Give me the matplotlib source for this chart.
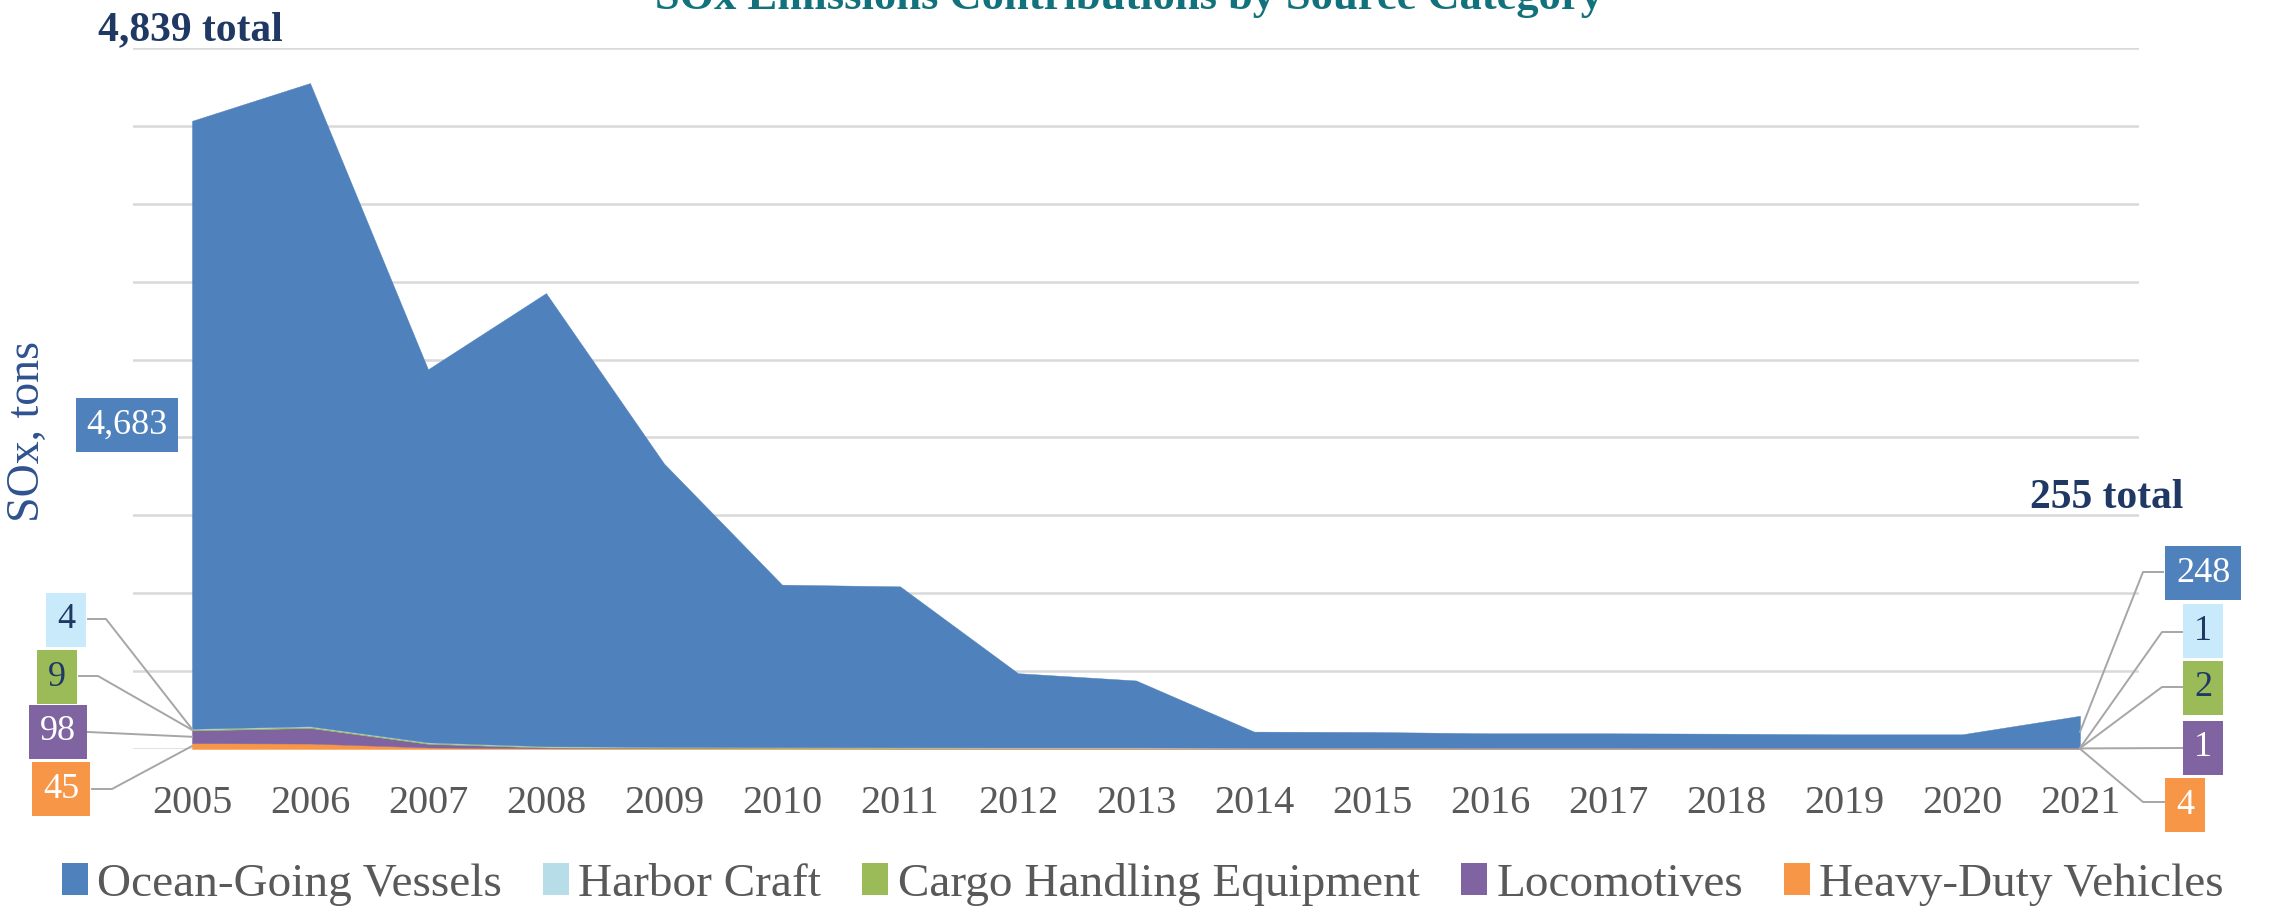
import numpy as np
import matplotlib.pyplot as plt
from matplotlib.lines import Line2D
from matplotlib.patches import Patch
from matplotlib.transforms import IdentityTransform

plt.rcParams['font.family'] = ['Liberation Serif', 'DejaVu Serif']

W, H = 2269, 917

years = list(range(2005, 2022))
ogv  = [4683, 4955, 2874, 3491, 2183, 1252, 1240, 572, 516, 124, 121, 112, 112, 110, 105, 105, 248]
hc   = [4, 4, 3, 3, 2, 2, 2, 2, 2, 1, 1, 1, 1, 1, 1, 1, 1]
che  = [9, 9, 8, 7, 6, 5, 5, 4, 4, 3, 3, 3, 3, 2, 2, 2, 2]
loco = [98, 120, 28, 6, 3, 2, 2, 2, 2, 2, 2, 1, 1, 1, 1, 1, 1]
hdv  = [45, 42, 12, 5, 5, 5, 4, 4, 4, 4, 4, 4, 4, 4, 4, 4, 4]
totals_shown = [4839, 255]

names = ['Ocean-Going Vessels', 'Harbor Craft', 'Cargo Handling Equipment',
         'Locomotives', 'Heavy-Duty Vehicles']
colors = ['#4F81BD', '#B7DEE8', '#9BBB59', '#8064A2', '#F79646']
box_colors = ['#4F81BD', '#C8EAFA', '#9BBB59', '#8064A2', '#F79646']
box_text = ['white', '#1F3864', '#1F3864', 'white', 'white']

fig = plt.figure(figsize=(W / 100, H / 100), dpi=100)
ax = fig.add_axes([133 / W, 1 - 749 / H, (2139 - 133) / W, (749 - 48) / H])

# stack bottom -> top: HDV, Loco, CHE, HC, OGV
series = [ogv, hc, che, loco, hdv]
order = [4, 3, 2, 1, 0]
polys = ax.stackplot(years, *[series[i] for i in order],
                     colors=[colors[i] for i in order], lw=0, zorder=2)
for p, i in zip(polys, order):
    p.set_edgecolor(colors[i])
    p.set_linewidth(0.3)

ax.set_xlim(2004.5, 2021.5)
ax.set_ylim(0, 5400)
ax.set_yticks(np.arange(0, 5401, 600))
ax.set_yticklabels([])
ax.grid(axis='y', color='#D9D9D9', lw=1.8)
ax.set_axisbelow(True)
for s in ax.spines.values():
    s.set_visible(False)
ax.set_xticks(years)
ax.set_xticklabels([str(y) for y in years], fontsize=29, color='#595959')
ax.tick_params(axis='both', length=0)
ax.tick_params(axis='x', pad=26)

# title (cut off at the top edge, as in the source)
fig.text(655 / W, 1 - 9 / H, 'SOx Emissions Contributions by Source Category',
         fontsize=32, fontweight='bold', color='#12727C', ha='left', va='baseline')

# y label
fig.text(28 / W, 1 - 432 / H, 'SOx, tons', rotation=90, fontsize=33,
         color='#2F528F', ha='center', va='center')

# totals
fig.text(98 / W, 1 - 40 / H, f'{totals_shown[0]:,} total', fontsize=30,
         fontweight='bold', color='#1F3864', ha='left', va='baseline')
fig.text(2030 / W, 1 - 508 / H, f'{totals_shown[1]:,} total', fontsize=30,
         fontweight='bold', color='#1F3864', ha='left', va='baseline')


def layer_mid(k, i):
    lo = 0
    for j in order:
        if j == k:
            return lo + series[j][i] / 2
        lo += series[j][i]


def label(k, i, center, start=None, elbow=None):
    cx, cy = center
    fig.text(cx / W, 1 - cy / H, f'{series[k][i]:,}', fontsize=26,
             color=box_text[k], ha='center', va='center', zorder=6,
             bbox=dict(boxstyle='square,pad=0.3', fc=box_colors[k], ec='none'))
    if start is None:
        return
    px, py = ax.transData.transform((years[i], layer_mid(k, i)))
    xs = [start[0]]
    ys = [H - start[1]]
    if elbow is not None:
        xs.append(elbow)
        ys.append(H - start[1])
    xs.append(px)
    ys.append(py)
    fig.add_artist(Line2D(xs, ys, transform=IdentityTransform(),
                          color='#A6A6A6', lw=1.4, zorder=5))


# left side (2005)
label(0, 0, (127, 425))
label(1, 0, (66, 620), (88, 619), 106)
label(2, 0, (57, 677), (79, 676), 98)
label(3, 0, (58, 732), (88, 732))
label(4, 0, (61, 789), (92, 789), 112)

# right side (2021)
n = len(years) - 1
label(0, n, (2203, 573), (2163, 572), 2143)
label(1, n, (2203, 631), (2182, 632), 2162)
label(2, n, (2203, 688), (2182, 687), 2162)
label(3, n, (2203, 748), (2182, 748))
label(4, n, (2185, 805), (2164, 802), 2143)

handles = [Patch(facecolor=c, edgecolor='none') for c in colors]
fig.legend(handles, names, loc='center', bbox_to_anchor=(0.5037, 1 - 884 / H),
           ncol=5, frameon=False, fontsize=34, labelcolor='#595959',
           handlelength=0.55, handleheight=0.68, handletextpad=0.2,
           columnspacing=0.87, borderpad=0)

fig.savefig('out.png', dpi=100)
